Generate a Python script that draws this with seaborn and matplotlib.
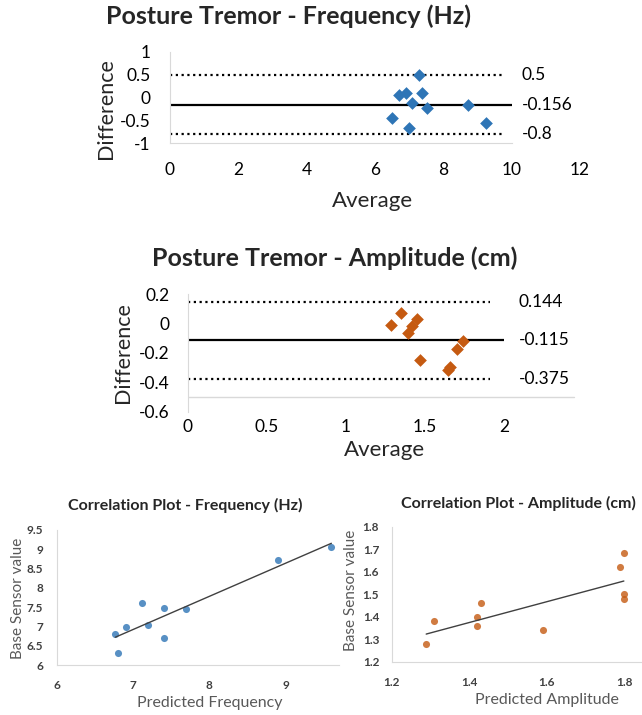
import matplotlib
matplotlib.use('Agg')
import matplotlib.pyplot as plt
import seaborn as sns
import numpy as np

# Bland-Altman - Frequency
freq_avg = [7.30, 6.71, 6.91, 7.39, 7.07, 7.51, 8.73, 6.51, 7.00, 9.25]
freq_diff = [0.505, 0.055, 0.09, 0.09, -0.11, -0.24, -0.16, -0.45, -0.67, -0.55]
freq_lines = [0.5, -0.156, -0.8]
freq_labels = ['0.5', '-0.156', '-0.8']

# Bland-Altman - Amplitude
amp_avg = [1.284, 1.347, 1.415, 1.446, 1.394, 1.467, 1.646, 1.657, 1.703, 1.741]
amp_diff = [-0.011, 0.069, -0.018, 0.028, -0.063, -0.249, -0.317, -0.299, -0.174, -0.117]
amp_lines = [0.144, -0.115, -0.375]
amp_labels = ['0.144', '-0.115', '-0.375']

# Correlation - Frequency
pred_freq = [6.765, 6.80, 6.91, 7.11, 7.19, 7.40, 7.40, 7.69, 8.90, 9.60]
base_freq = [6.80, 6.32, 6.98, 7.60, 7.05, 7.48, 6.71, 7.45, 8.72, 9.06]

# Correlation - Amplitude
pred_amp = [1.289, 1.309, 1.419, 1.419, 1.430, 1.591, 1.790, 1.799, 1.799, 1.799]
base_amp = [1.279, 1.379, 1.400, 1.359, 1.461, 1.339, 1.621, 1.681, 1.502, 1.480]

BLUE = '#2E75B6'
ORANGE = '#C55A11'
GRID = '#d9d9d9'

sns.set_style('white')
plt.rcParams['font.family'] = ['Lato', 'DejaVu Sans']
plt.rcParams['axes.unicode_minus'] = False

W, H = 642, 715
fig = plt.figure(figsize=(W / 100, H / 100), dpi=100)


def box(x0, y0, x1, y1):
    # pixel box (top-left origin) -> figure fraction rect
    return [x0 / W, 1 - y1 / H, (x1 - x0) / W, (y1 - y0) / H]


def fx(px):
    return px / W


def fy(py):
    return 1 - py / H


def bland_altman(ax, x, y, lines, labels, color, dot_end, solid_end, lab_x):
    sns.scatterplot(x=x, y=y, ax=ax, marker='D', s=42, color=color,
                    edgecolor=color, linewidth=0, zorder=3)
    ax.hlines(lines[0], 0, dot_end, colors='black', linestyles=(0, (1, 1.6)), lw=1.6)
    ax.hlines(lines[2], 0, dot_end, colors='black', linestyles=(0, (1, 1.6)), lw=1.6)
    ax.hlines(lines[1], 0, solid_end, colors='black', lw=1.6)
    for v, t in zip(lines, labels):
        ax.text(lab_x, v, t, fontsize=12.5, va='center', ha='left', color='black')
    for s in ['top', 'right']:
        ax.spines[s].set_visible(False)
    ax.spines['left'].set_color(GRID)
    ax.tick_params(length=0, labelsize=12.5, colors='black')


# ---- Panel 1 ----
ax1 = fig.add_axes(box(170, 52, 580, 143))
bland_altman(ax1, freq_avg, freq_diff, freq_lines, freq_labels, BLUE, 9.76, 10, 10.3)
ax1.set_xlim(0, 12)
ax1.set_ylim(-1, 1)
ax1.set_xticks([0, 2, 4, 6, 8, 10, 12])
ax1.set_yticks([-1, -0.5, 0, 0.5, 1])
ax1.set_yticklabels(['-1', '-0.5', '0', '0.5', '1'])
ax1.spines['bottom'].set_color(GRID)
ax1.spines['bottom'].set_bounds(0, 10)
ax1.tick_params(axis='x', pad=14)
ax1.tick_params(axis='y', pad=14)
ax1.set_xlabel('Average', fontsize=16)
ax1.set_ylabel('Difference', fontsize=15.5)
ax1.xaxis.set_label_coords(fx(373), fy(191), transform=fig.transFigure)
ax1.yaxis.set_label_coords(fx(116), fy(109), transform=fig.transFigure)
fig.text(fx(288), fy(16), 'Posture Tremor - Frequency (Hz)', fontsize=18,
         fontweight='bold', ha='center', va='center')

# ---- Panel 2 ----
ax2 = fig.add_axes(box(187.7, 294, 583.5, 411.7))
bland_altman(ax2, amp_avg, amp_diff, amp_lines, amp_labels, ORANGE, 1.91, 2.0, 2.09)
ax2.set_xlim(0, 2.5)
ax2.set_ylim(-0.6, 0.2)
ax2.spines['bottom'].set_visible(False)
ax2.axhline(-0.5, xmin=0, xmax=0.975, color=GRID, lw=1)
ax2.set_xticks([0, 0.5, 1, 1.5, 2])
ax2.set_xticklabels(['0', '0.5', '1', '1.5', '2'])
ax2.set_yticks([-0.6, -0.4, -0.2, 0, 0.2])
ax2.set_yticklabels(['-0.6', '-0.4', '-0.2', '0', '0.2'])
ax2.tick_params(axis='x', pad=5)
ax2.tick_params(axis='y', pad=13)
ax2.set_xlabel('Average', fontsize=16)
ax2.set_ylabel('Difference', fontsize=15.5)
ax2.xaxis.set_label_coords(fx(385), fy(440), transform=fig.transFigure)
ax2.yaxis.set_label_coords(fx(133), fy(353), transform=fig.transFigure)
fig.text(fx(335), fy(258), 'Posture Tremor - Amplitude (cm)', fontsize=18,
         fontweight='bold', ha='center', va='center')


def correlation(ax, x, y, color):
    sns.regplot(x=np.array(x), y=np.array(y), ax=ax, ci=None, truncate=True,
                scatter_kws=dict(s=26, color=color, linewidths=0),
                line_kws=dict(color='#404040', lw=1))
    for s in ['top', 'right']:
        ax.spines[s].set_visible(False)
    for s in ['left', 'bottom']:
        ax.spines[s].set_color(GRID)
    ax.tick_params(length=0, labelsize=8.5, colors='#404040')


# ---- Panel 3 ----
ax3 = fig.add_axes(box(57, 530, 339, 665))
correlation(ax3, pred_freq, base_freq, BLUE)
ax3.set_xlim(6, 9.7)
ax3.set_ylim(6, 9.5)
ax3.set_xticks([6, 7, 8, 9])
ax3.set_yticks([6, 6.5, 7, 7.5, 8, 8.5, 9, 9.5])
ax3.set_yticklabels(['6', '6.5', '7', '7.5', '8', '8.5', '9', '9.5'], fontweight='bold')
ax3.set_xticklabels(['6', '7', '8', '9'], fontweight='bold')
ax3.tick_params(axis='x', pad=11)
ax3.tick_params(axis='y', pad=10)
ax3.set_xlabel('Predicted Frequency', fontsize=11.5, color='#595959')
ax3.set_ylabel('Base Sensor value', fontsize=11, color='#595959')
ax3.xaxis.set_label_coords(fx(210), fy(696), transform=fig.transFigure)
ax3.yaxis.set_label_coords(fx(25), fy(598), transform=fig.transFigure)
fig.text(fx(185), fy(505), 'Correlation Plot - Frequency (Hz)', fontsize=11.5,
         fontweight='bold', ha='center', va='center', color='#262626')

# ---- Panel 4 ----
ax4 = fig.add_axes(box(391.7, 526.7, 663, 661.7))
correlation(ax4, pred_amp, base_amp, ORANGE)
ax4.set_xlim(1.2, 1.9)
ax4.set_ylim(1.2, 1.8)
ax4.set_xticks([1.2, 1.4, 1.6, 1.8])
ax4.set_xticklabels(['1.2', '1.4', '1.6', '1.8'], fontweight='bold')
ax4.set_yticks([1.2, 1.3, 1.4, 1.5, 1.6, 1.7, 1.8])
ax4.set_yticklabels(['1.2', '1.3', '1.4', '1.5', '1.6', '1.7', '1.8'], fontweight='bold')
ax4.tick_params(axis='x', pad=11)
ax4.tick_params(axis='y', pad=9)
ax4.set_xlabel('Predicted Amplitude', fontsize=11.5, color='#595959')
ax4.set_ylabel('Base Sensor value', fontsize=11, color='#595959')
ax4.xaxis.set_label_coords(fx(547), fy(693), transform=fig.transFigure)
ax4.yaxis.set_label_coords(fx(358), fy(590), transform=fig.transFigure)
fig.text(fx(518), fy(503), 'Correlation Plot - Amplitude (cm)', fontsize=11.5,
         fontweight='bold', ha='center', va='center', color='#262626')

fig.savefig('out.png', dpi=100)
